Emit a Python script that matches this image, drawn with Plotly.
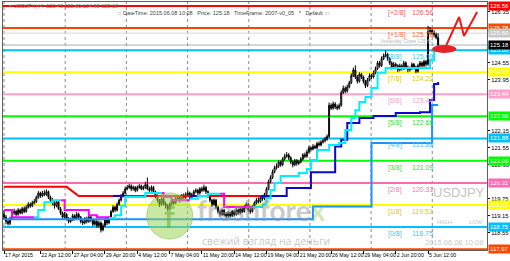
import plotly.graph_objects as go

# ---------------- data ----------------
first_open = 119.20
close = [
    119.10, 118.95, 118.88,
    119.05, 119.25, 119.30, 119.20, 119.35, 119.25,
    119.40, 119.30, 119.45, 119.55, 119.50, 119.60,
    119.65, 119.80, 119.95, 119.85, 119.95, 119.90,
    120.00, 119.80, 119.70, 119.60, 119.50, 119.65,
    119.40, 119.25, 119.10, 119.20, 119.05, 118.95,
    119.00, 119.15, 119.05, 119.20, 119.10, 118.95,
    118.90, 119.05, 118.95, 119.10, 119.00, 118.85,
    118.95, 118.80, 118.90, 118.65, 118.80, 119.00,
    118.90, 119.05, 119.30, 119.45, 119.35, 119.55,
    119.70, 119.85, 119.95, 120.10, 120.15, 120.20,
    120.10, 120.15, 120.05, 120.15, 120.20, 120.10,
    120.15, 120.25, 120.10, 120.05, 120.15, 120.00,
    119.85, 119.70, 119.55, 119.75, 119.60, 119.50,
    119.40, 119.55, 119.70, 119.60, 119.75, 119.80,
    119.70, 119.85, 119.80, 119.90, 119.95, 119.80,
    119.90, 120.00, 120.05, 119.95, 120.10, 120.05,
    120.15, 120.00, 119.85, 119.70, 119.55, 119.70,
    119.45, 119.30, 119.20, 119.35, 119.20, 119.15,
    119.25, 119.15, 119.30, 119.20, 119.35, 119.25,
    119.40, 119.30, 119.45, 119.55, 119.35, 119.30,
    119.45, 119.60, 119.70, 119.65, 119.80, 119.75,
    119.90, 120.10, 120.35, 120.50, 120.70, 120.85,
    120.90, 121.05, 120.95, 121.15, 121.25, 121.30,
    121.20, 121.05, 120.95, 121.10, 121.00, 121.05,
    121.15, 121.30, 121.25, 121.40, 121.55, 121.50,
    121.60, 121.55, 121.70, 121.65, 121.75, 121.80,
    121.85, 121.95, 123.05, 122.95, 123.10, 123.00,
    122.95, 123.05, 123.50, 123.65, 123.55, 123.70,
    123.85, 124.10, 124.30, 124.05, 123.90, 124.15,
    124.05, 123.90, 123.75, 123.95, 124.10, 124.05,
    124.20, 124.35, 124.55, 124.45, 124.70, 124.80,
    124.85, 124.70, 124.55, 124.40, 124.50, 124.45,
    124.30, 124.45, 124.35, 124.55, 124.40, 124.30,
    124.35, 124.50, 124.40, 124.25, 124.45, 124.55,
    124.45, 124.60, 124.50, 125.65, 125.70, 125.60,
    125.55, 125.45, 125.18,
]
high = [
    119.35, 119.18, 119.05,
    119.12, 119.32, 119.40, 119.36, 119.42, 119.40,
    119.46, 119.48, 119.52, 119.63, 119.62, 119.68,
    119.74, 119.86, 120.02, 120.00, 120.03, 120.05,
    120.08, 120.04, 119.86, 119.78, 119.66, 119.72,
    119.70, 119.46, 119.30, 119.28, 119.24, 119.10,
    119.08, 119.22, 119.20, 119.28, 119.26, 119.14,
    119.02, 119.10, 119.12, 119.18, 119.15, 119.05,
    119.02, 119.00, 118.98, 118.95, 118.88, 119.06,
    119.08, 119.12, 119.36, 119.52, 119.50, 119.62,
    119.76, 119.92, 120.02, 120.18, 120.24, 120.28,
    120.26, 120.22, 120.20, 120.22, 120.27, 120.25,
    120.22, 120.35, 120.50, 120.18, 120.22, 120.20,
    120.04, 119.90, 119.74, 119.80, 119.80, 119.65,
    119.56, 119.62, 119.76, 119.75, 119.82, 119.88,
    119.85, 119.92, 119.94, 119.98, 120.05, 120.00,
    119.96, 120.06, 120.12, 120.10, 120.16, 120.18,
    120.25, 120.20, 120.05, 119.90, 119.75, 119.76,
    119.74, 119.50, 119.36, 119.40, 119.38, 119.28,
    119.32, 119.30, 119.36, 119.35, 119.42, 119.40,
    119.46, 119.45, 119.52, 119.62, 119.60, 119.42,
    119.52, 119.66, 119.78, 119.80, 119.86, 119.88,
    119.96, 120.16, 120.42, 120.58, 120.78, 120.92,
    121.00, 121.12, 121.10, 121.22, 121.34, 121.40,
    121.36, 121.25, 121.10, 121.16, 121.15, 121.12,
    121.22, 121.36, 121.38, 121.48, 121.62, 121.60,
    121.68, 121.66, 121.76, 121.78, 121.82, 121.88,
    121.94, 122.02, 123.15, 123.12, 123.18, 123.16,
    123.08, 123.12, 123.58, 123.75, 123.72, 123.78,
    123.92, 124.18, 124.38, 124.46, 124.12, 124.22,
    124.20, 124.10, 123.95, 124.02, 124.18, 124.16,
    124.28, 124.42, 124.62, 124.62, 124.78, 124.88,
    125.00, 124.90, 124.75, 124.60, 124.58, 124.56,
    124.50, 124.52, 124.50, 124.62, 124.60, 124.46,
    124.42, 124.56, 124.55, 124.45, 124.52, 124.62,
    124.60, 124.66, 124.65, 125.86, 125.82, 125.76,
    125.70, 125.62, 125.60,
]
low = [
    119.00, 118.85, 118.80,
    118.82, 119.00, 119.18, 119.12, 119.15, 119.20,
    119.20, 119.24, 119.26, 119.40, 119.43, 119.45,
    119.55, 119.60, 119.75, 119.78, 119.80, 119.84,
    119.85, 119.74, 119.62, 119.52, 119.40, 119.45,
    119.35, 119.18, 119.02, 119.05, 118.98, 118.88,
    118.90, 118.96, 118.98, 119.00, 119.04, 118.88,
    118.82, 118.85, 118.88, 118.90, 118.92, 118.78,
    118.80, 118.72, 118.74, 118.56, 118.60, 118.75,
    118.82, 118.85, 119.00, 119.25, 119.28, 119.30,
    119.50, 119.65, 119.80, 119.90, 120.05, 120.10,
    120.02, 120.04, 119.98, 120.00, 120.10, 120.05,
    120.05, 120.10, 120.05, 119.98, 120.00, 119.92,
    119.78, 119.62, 119.46, 119.50, 119.52, 119.40,
    119.32, 119.36, 119.50, 119.54, 119.56, 119.70,
    119.62, 119.66, 119.74, 119.75, 119.85, 119.72,
    119.74, 119.85, 119.95, 119.88, 119.90, 119.98,
    120.00, 119.92, 119.78, 119.62, 119.46, 119.50,
    119.38, 119.22, 119.12, 119.15, 119.12, 119.06,
    119.08, 119.08, 119.10, 119.12, 119.15, 119.18,
    119.20, 119.24, 119.26, 119.40, 119.30, 119.22,
    119.26, 119.40, 119.55, 119.58, 119.60, 119.68,
    119.70, 119.85, 120.05, 120.30, 120.45, 120.65,
    120.78, 120.84, 120.88, 120.90, 121.10, 121.20,
    121.12, 120.98, 120.86, 120.90, 120.92, 120.94,
    121.00, 121.10, 121.18, 121.20, 121.35, 121.42,
    121.46, 121.50, 121.50, 121.60, 121.60, 121.70,
    121.74, 121.80, 121.90, 122.88, 122.90, 122.92,
    122.88, 122.90, 123.00, 123.45, 123.48, 123.50,
    123.65, 123.80, 124.05, 123.98, 123.82, 123.85,
    123.98, 123.82, 123.66, 123.70, 123.90, 123.98,
    124.00, 124.15, 124.30, 124.38, 124.40, 124.65,
    124.75, 124.62, 124.48, 124.32, 124.35, 124.38,
    124.22, 124.25, 124.28, 124.30, 124.34, 124.22,
    124.24, 124.30, 124.32, 124.18, 124.20, 124.40,
    124.38, 124.40, 124.42, 124.45, 125.55, 125.52,
    125.45, 125.38, 124.98,
]

tick_bars = [0, 18, 34, 50, 66, 82, 98, 114, 130, 146, 162, 178, 194, 210]
tick_text = ["17 Apr 2015", "22 Apr 12:00", "27 Apr 04:00", "29 Apr 20:00",
             "4 May 12:00", "7 May 04:00", "11 May 20:00", "14 May 12:00",
             "19 May 04:00", "21 May 20:00", "26 May 12:00", "29 May 04:00",
             "2 Jun 20:00", "5 Jun 12:00"]
grid_bars = [0, 30.3, 60.6, 90.9, 121.2, 151.5, 181.8, 212.1]
price_ticks = [126.35, 124.55, 123.95, 122.15, 121.55, 120.95,
               119.75, 119.15, 118.55]

murray_levels = [126.56, 125.78, 125.00, 124.22, 123.44, 122.66, 121.88,
                 121.09, 120.31, 119.53, 118.75, 117.97]
murray_names = ["[+2/8]", "[+1/8]", "[8/8]", "[7/8]", "[6/8]", "[5/8]",
                "[4/8]", "[3/8]", "[2/8]", "[1/8]", "[0/8]", "[-1/8]"]
murray_colors = ["#FF0000", "#FF4500", "#00BFFF", "#FFFF00", "#FFA0CC",
                 "#00FF00", "#00BFFF", "#00FF00", "#FF69B4", "#FFFF00",
                 "#00BFFF", "#FF4500"]
murray_text_colors = ["#F06060", "#F07040", "#40C8F8", "#D8CC00", "#F8A0C8",
                      "#30E030", "#40C8F8", "#30E030", "#F878B8", "#D8CC00",
                      "#40C8F8", "#F07040"]
yesterday_close = 125.60
bid_price = 125.18

# indicator lines (bar index, price)
red_x = [0, 31, 37, 127]
red_y = [120.17, 120.17, 119.85, 119.85]
navy_x = [54, 60, None, 92, 97, None, 127, 140, 152, 164, 167, 170, 176,
          183, 194, 206, 211, 213, 215]
navy_y = [119.85, 119.85, None, 119.85, 119.85, None, 119.85, 120.13, 120.69,
          121.60, 121.83, 122.43, 122.60, 122.67, 122.78, 122.81, 123.24,
          123.80, 123.87]
dodger_x = [0, 153, 182, 212, 215]
dodger_y = [119.03, 119.48, 121.72, 123.06, 123.06]
cyan_x = [15, 17, 20, 24, 28, None,
          52, 55, 58, 60, 70, 78, None,
          92, 96, 101, 107, None,
          123, 128, 130, 132, 134, 137, 146, 150, 152, 155, 161, 166, 169,
          172, 174, 176, 179, 182, 185, 189, 211, 213, 215]
cyan_y = [119.10, 119.35, 119.63, 119.70, 119.70, None,
          119.07, 119.17, 119.50, 119.81, 119.95, 119.95, None,
          119.75, 119.85, 119.93, 119.93, None,
          119.46, 119.55, 119.78, 120.06, 120.31, 120.55, 120.66, 120.80,
          121.12, 121.47, 121.65, 121.72, 122.18, 122.60, 122.88, 123.17,
          123.34, 123.66, 124.20, 124.37, 124.65, 125.00, 125.00]
magenta_x = [0, 4, 15, None, 28, 30, 42, 46, 52, None,
             78, 79, 83, 92, None, 107, 109, 123]
magenta_y = [119.35, 119.10, 119.10, None, 119.70, 119.35, 119.17, 119.10,
             119.07, None, 119.95, 119.81, 119.70, 119.70, None,
             119.93, 119.46, 119.46]

# hand drawing (red "N" and ellipse)
draw_x = [218.9, 225.4, 227.8, 234.3]
draw_y = [125.15, 126.17, 125.50, 126.35]
ellipse_x = [212.0, 224.0]
ellipse_y = [124.90, 125.18]

# ---------------- figure ----------------
n = len(close)
bars = list(range(n))
opens = [first_open] + close[:-1]

FONT = "Liberation Sans"
fig = go.Figure()

shapes = []
for g in grid_bars:
    shapes.append(dict(type="line", xref="x", yref="paper", x0=g, x1=g,
                       y0=0, y1=1, layer="below",
                       line=dict(color="#8C8C8C", width=1, dash="dot")))
for lv, col in zip(murray_levels, murray_colors):
    shapes.append(dict(type="line", xref="paper", yref="y", x0=0, x1=1,
                       y0=lv, y1=lv, layer="below",
                       line=dict(color=col, width=2)))
shapes.append(dict(type="line", xref="paper", yref="y", x0=0, x1=1,
                   y0=yesterday_close, y1=yesterday_close, layer="below",
                   line=dict(color="#D8D8D8", width=1)))
shapes.append(dict(type="line", xref="paper", yref="y", x0=0, x1=1,
                   y0=bid_price, y1=bid_price, layer="below",
                   line=dict(color="#A8B0B8", width=1)))

fig.add_trace(go.Candlestick(
    x=bars, open=opens, high=high, low=low, close=close,
    increasing=dict(line=dict(color="#000000", width=1), fillcolor="#FFFFFF"),
    decreasing=dict(line=dict(color="#000000", width=1), fillcolor="#000000"),
    whiskerwidth=0, hoverinfo="skip"))

fig.add_trace(go.Scatter(x=dodger_x, y=dodger_y, mode="lines",
                         line=dict(color="#1E90FF", width=2, shape="hv"),
                         hoverinfo="skip"))
fig.add_trace(go.Scatter(x=red_x, y=red_y, mode="lines",
                         line=dict(color="#FF0000", width=2),
                         hoverinfo="skip"))
fig.add_trace(go.Scatter(x=navy_x, y=navy_y, mode="lines",
                         line=dict(color="#0A0ACD", width=2, shape="hv"),
                         connectgaps=False, hoverinfo="skip"))
fig.add_trace(go.Scatter(x=magenta_x, y=magenta_y, mode="lines",
                         line=dict(color="#FF00FF", width=2, shape="hv"),
                         connectgaps=False, hoverinfo="skip"))
fig.add_trace(go.Scatter(x=cyan_x, y=cyan_y, mode="lines",
                         line=dict(color="#00EEFF", width=2, shape="hv"),
                         connectgaps=False, hoverinfo="skip"))

# red ellipse + N drawing
shapes.append(dict(type="circle", xref="x", yref="y",
                   x0=ellipse_x[0], x1=ellipse_x[1],
                   y0=ellipse_y[0], y1=ellipse_y[1],
                   fillcolor="#E8202A", line=dict(width=0)))
fig.add_trace(go.Scatter(x=draw_x, y=draw_y, mode="lines",
                         line=dict(color="#F01818", width=2),
                         cliponaxis=False, hoverinfo="skip"))

# watermark logo ball
shapes.append(dict(type="circle", xref="paper", yref="paper",
                   x0=0.297, x1=0.392, y0=0.044, y1=0.230,
                   fillcolor="rgba(160,212,90,0.55)",
                   line=dict(color="rgba(120,185,60,0.5)", width=1)))

annotations = []
# Murray labels inside the chart
for lv, nm, tc in zip(murray_levels[:-1], murray_names[:-1],
                      murray_text_colors[:-1]):
    annotations.append(dict(xref="paper", yref="y", x=0.792, y=lv,
                            text=nm, showarrow=False, xanchor="left",
                            yanchor="top", yshift=-1,
                            font=dict(family=FONT, size=7, color=tc)))
    annotations.append(dict(xref="paper", yref="y", x=0.840, y=lv,
                            text=f"{lv:.2f}", showarrow=False, xanchor="left",
                            yanchor="top", yshift=-1,
                            font=dict(family=FONT, size=7, color=tc)))
annotations.append(dict(xref="paper", yref="y", x=0.775, y=yesterday_close,
                        text=f"Yesterday Close {yesterday_close:.2f}",
                        showarrow=False, xanchor="left", yanchor="top",
                        yshift=-3,
                        font=dict(family=FONT, size=5, color="#B8B8B8")))

# right-side coloured price labels
box_levels = murray_levels + [yesterday_close, bid_price]
box_colors = murray_colors + ["#C8C8C8", "#000000"]
for lv, col in zip(box_levels, box_colors):
    annotations.append(dict(xref="paper", yref="y", x=1, y=lv,
                            text=f"{lv:.2f}", showarrow=False,
                            xanchor="left", yanchor="middle", xshift=1,
                            bgcolor=col, borderpad=1,
                            font=dict(family=FONT, size=6, color="#FFFFFF")))

# header texts
annotations.append(dict(xref="paper", yref="paper", x=0.008, y=0.984,
                        text="▾ USDJPY,H4  125.45 125.60 124.98 125.18",
                        showarrow=False, xanchor="left", yanchor="middle",
                        font=dict(family=FONT, size=5.5, color="#707070")))
annotations.append(dict(xref="paper", yref="paper", x=0.231, y=0.956,
                        text="::: DateTime: 2015.06.08 10:08   Price: 125.18   "
                             "TimeFrame: 2007-v0_05   *   Default :::",
                        showarrow=False, xanchor="left", yanchor="middle",
                        font=dict(family=FONT, size=5.5, color="#404040")))

# bottom-right info texts
annotations.append(dict(xref="paper", yref="paper", x=0.884, y=0.23,
                        text="USDJPY", showarrow=False, xanchor="left",
                        yanchor="middle",
                        font=dict(family=FONT, size=13, color="#C4C4C4")))
annotations.append(dict(xref="paper", yref="paper", x=0.893, y=0.113,
                        text="HIGH", showarrow=False, xanchor="left",
                        yanchor="middle",
                        font=dict(family=FONT, size=6, color="#C8C8C8")))
annotations.append(dict(xref="paper", yref="paper", x=0.959, y=0.113,
                        text="LOW", showarrow=False, xanchor="left",
                        yanchor="middle",
                        font=dict(family=FONT, size=6, color="#C8C8C8")))
annotations.append(dict(xref="paper", yref="paper", x=0.868, y=0.032,
                        text="2015.06.08 10:08", showarrow=False,
                        xanchor="left", yanchor="middle",
                        font=dict(family=FONT, size=7.5, color="#C8C8C8")))

# watermark texts
annotations.append(dict(xref="paper", yref="paper", x=0.345, y=0.137,
                        text="<b>f</b>", showarrow=False, xanchor="center",
                        yanchor="middle",
                        font=dict(family="Lato", size=30,
                                  color="rgba(100,170,45,0.55)")))
annotations.append(dict(xref="paper", yref="paper", x=0.397, y=0.16,
                        text="<b>freshfore<span style='color:rgba(120,190,50,0.7)'>x</span></b>",
                        showarrow=False, xanchor="left", yanchor="middle",
                        font=dict(family="Lato", size=28,
                                  color="rgba(150,150,150,0.5)")))
annotations.append(dict(xref="paper", yref="paper", x=0.407, y=0.036,
                        text="свежий взгляд на деньги", showarrow=False,
                        xanchor="left", yanchor="middle",
                        font=dict(family="Open Sans", size=10.5,
                                  color="rgba(150,150,150,0.55)")))

fig.update_layout(
    width=510, height=261,
    margin=dict(l=3, r=23, t=2, b=11),
    paper_bgcolor="#FFFFFF", plot_bgcolor="#FFFFFF",
    showlegend=False,
    shapes=shapes, annotations=annotations,
    xaxis=dict(range=[-0.5, 239.2], rangeslider=dict(visible=False),
               showgrid=False, zeroline=False, automargin=False,
               tickmode="array", tickvals=tick_bars, ticktext=tick_text,
               tickangle=0,
               ticks="outside", ticklen=3, tickcolor="#000000",
               ticklabelposition="outside right",
               tickfont=dict(family=FONT, size=5.2, color="#000000"),
               showline=True, linecolor="#606060", mirror=True),
    yaxis=dict(range=[117.94, 126.70], side="right", showgrid=False,
               zeroline=False, automargin=False,
               tickmode="array", tickvals=price_ticks,
               ticktext=[f"{p:.2f}" for p in price_ticks],
               ticks="outside", ticklen=2, tickcolor="#000000",
               tickfont=dict(family=FONT, size=5.8, color="#000000"),
               showline=True, linecolor="#606060", mirror=True),
)

fig.write_html("out.html")
